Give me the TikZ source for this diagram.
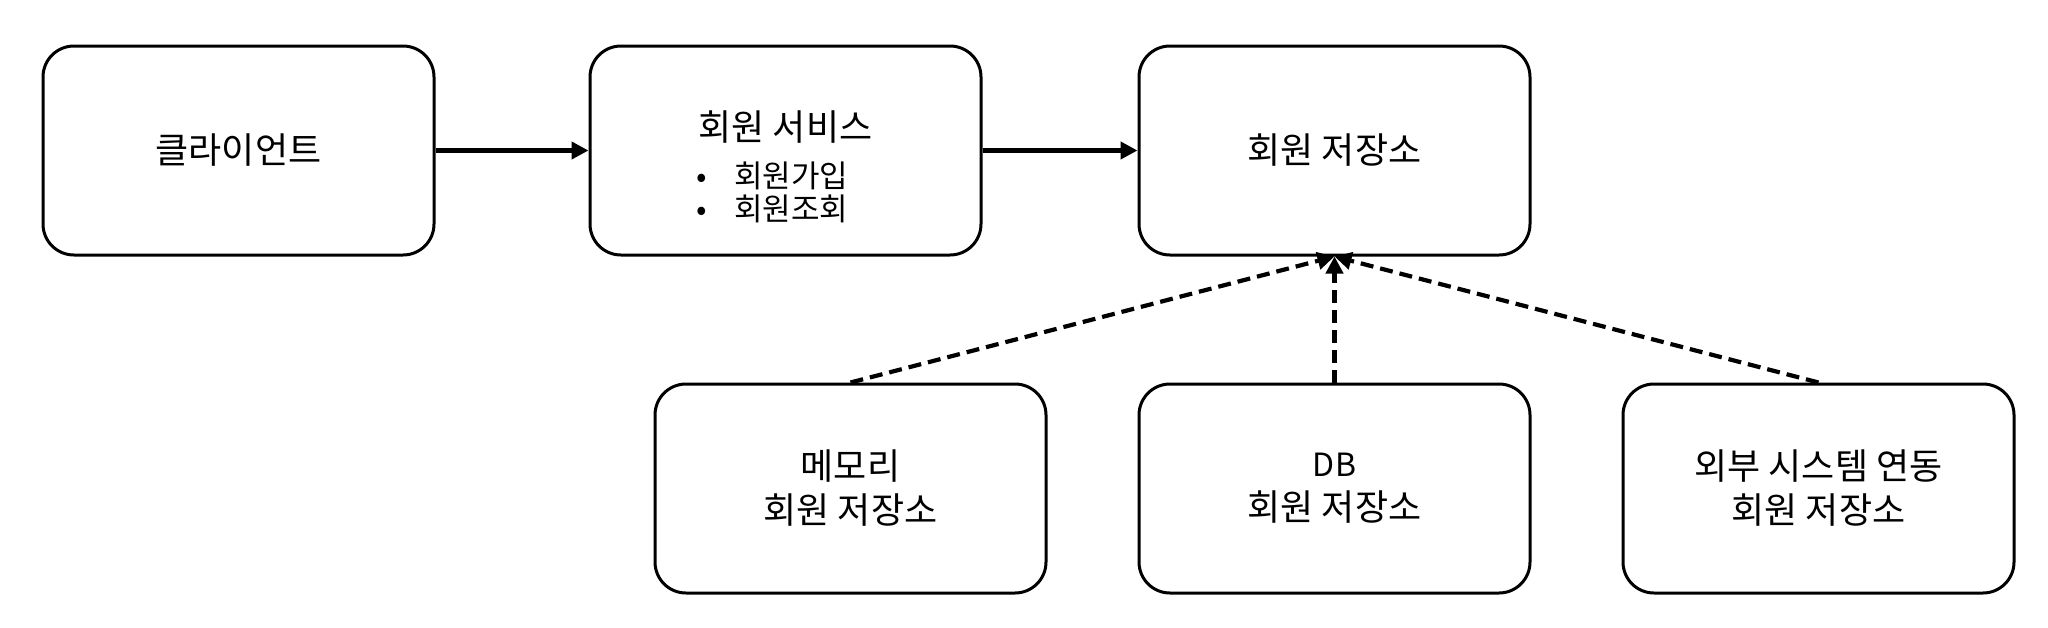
\documentclass[tikz,border=0pt]{standalone}
\usepackage{fontspec}
\setmainfont{Noto Sans CJK KR}
\usetikzlibrary{arrows.meta}
\begin{document}
\begin{tikzpicture}[x=1pt,y=-1pt,
  box/.style={draw=black, line width=3pt, rounded corners=31pt, minimum width=391pt, minimum height=209pt, inner sep=0pt, align=center, font=\fontsize{36}{44}\selectfont},
  txt/.style={inner sep=0pt, align=center, font=\fontsize{36}{44}\selectfont},
  listtxt/.style={inner sep=0pt, align=left, font=\fontsize{31}{33}\selectfont},
  solidarrow/.style={line width=4.2pt, -{Triangle[length=17pt,width=17pt]}},
  dasharrow/.style={line width=4.2pt, dash pattern=on 13pt off 7pt, -{Triangle[length=17pt,width=17pt]}}]
\useasboundingbox (0,0) rectangle (2048,627);
% top row
\node[box] (client) at (238.5,150.5) {클라이언트};
\node[box] (svc) at (785.5,150.5) {};
\node[txt] (svctitle) at (785.5,127) {회원 서비스};
\node[listtxt, anchor=west] (svclist) at (696,192) {\makebox[38pt][l]{•}회원가입\\\makebox[38pt][l]{•}회원조회};
\node[box] (store) at (1334.5,150.5) {회원 저장소};
% bottom row
\node[box] (mem) at (850.5,488.5) {메모리\\회원 저장소};
\node[box] (db) at (1334.5,488.5) {{\fontsize{32}{44}\selectfont DB}\\회원 저장소};
\node[box] (ext) at (1818.5,488.5) {외부 시스템 연동\\회원 저장소};
% connectors
\draw[solidarrow] (client.east) -- (svc.west);
\draw[solidarrow] (svc.east) -- (store.west);
\draw[dasharrow] (mem.north) -- (store.south);
\draw[dasharrow] (db.north) -- (store.south);
\draw[dasharrow] (ext.north) -- (store.south);
\end{tikzpicture}
\end{document}
